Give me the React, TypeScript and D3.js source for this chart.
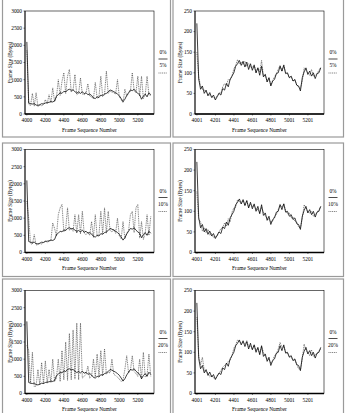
import React from "react";
import * as d3 from "d3";

// ---------- data ----------
const FRAMES = d3.range(4000, 5341, 20); // frame sequence numbers (68 samples)

const LEFT_X_TICKS = [4000, 4200, 4400, 4600, 4800, 5000, 5200];
const RIGHT_X_TICKS = [4001, 4201, 4401, 4601, 4801, 5001, 5201];
const LEFT_Y_TICKS = [0, 500, 1000, 1500, 2000, 2500, 3000];
const RIGHT_Y_TICKS = [0, 50, 100, 150, 200, 250];
const LOSS_LABELS = ["5%", "10%", "20%"];
const BASE_LABEL = "0%";

const LEFT_0 = [
  2100, 320, 300, 290, 300, 260, 250, 270, 300, 290, 320, 330, 340, 360, 350, 380, 520, 560, 620, 600,
  660, 640, 700, 720, 690, 700, 650, 610, 640, 600, 650, 590, 620, 560, 580, 540, 470, 450, 500, 480,
  550, 530, 580, 600, 640, 700, 680, 650, 620, 580, 530, 450, 360, 430, 540, 620, 700, 680, 720, 650,
  600, 560, 430, 520, 580, 500, 620, 560,
];
const LEFT_5 = [
  1850, 280, 250, 600, 230, 620, 220, 260, 240, 280, 420, 300, 560, 330, 760, 360, 480, 1000, 540, 950,
  1200, 600, 1100, 1300, 640, 700, 1150, 560, 600, 1050, 580, 560, 620, 880, 520, 500, 440, 920, 460, 500,
  1100, 520, 560, 1250, 600, 660, 640, 620, 580, 1000, 500, 420, 330, 720, 520, 600, 660, 1200, 680, 620,
  1100, 520, 1100, 450, 560, 1100, 560, 540,
];
const LEFT_10 = [
  1500, 1000, 260, 240, 520, 220, 230, 260, 250, 300, 340, 290, 330, 350, 860, 700, 480, 1100, 1300, 1400,
  600, 680, 1300, 640, 700, 620, 1100, 560, 1100, 540, 1200, 560, 520, 600, 500, 900, 440, 1100, 480, 520,
  1200, 540, 1300, 560, 1200, 640, 600, 680, 560, 1000, 480, 400, 900, 400, 560, 640, 1100, 1200, 580, 1300,
  1400, 420, 900, 380, 560, 1100, 500, 1050,
];
const LEFT_20 = [
  1400, 1250, 300, 1200, 200, 220, 700, 250, 900, 280, 950, 300, 700, 320, 1000, 350, 450, 1000, 350, 1250,
  400, 1500, 380, 1750, 400, 1850, 420, 2050, 400, 2050, 450, 500, 560, 800, 450, 500, 1000, 480, 1150, 500,
  1250, 520, 1300, 560, 620, 600, 1000, 560, 520, 480, 420, 350, 400, 700, 1100, 600, 680, 1100, 640, 580,
  500, 1000, 420, 1200, 480, 520, 1150, 500,
];

const RIGHT_0 = [
  220, 85, 60, 68, 50, 58, 44, 52, 40, 46, 34, 42, 50, 46, 62, 58, 74, 66, 84, 92,
  100, 116, 122, 130, 118, 128, 114, 126, 108, 122, 106, 118, 100, 112, 94, 116, 90, 96, 78, 88,
  68, 80, 84, 98, 100, 116, 104, 118, 98, 100, 88, 92, 80, 84, 70, 68, 56, 88, 102, 112,
  96, 104, 92, 100, 86, 98, 100, 112,
];
const RIGHT_5 = [
  150, 90, 68, 60, 58, 54, 48, 46, 42, 40, 38, 44, 52, 50, 66, 74, 70, 84, 82, 92,
  110, 118, 132, 122, 126, 120, 128, 116, 122, 114, 112, 120, 100, 112, 102, 130, 92, 96, 78, 88,
  70, 82, 90, 98, 108, 118, 104, 120, 100, 98, 88, 90, 80, 82, 70, 66, 62, 80, 112, 106,
  100, 94, 108, 92, 94, 98, 106, 114,
];
const RIGHT_10 = [
  148, 80, 75, 52, 60, 48, 56, 42, 46, 36, 38, 40, 50, 58, 60, 72, 64, 82, 74, 98,
  108, 110, 128, 124, 118, 128, 114, 126, 110, 118, 112, 114, 106, 104, 96, 110, 98, 88, 84, 80,
  74, 76, 88, 92, 104, 116, 110, 118, 102, 94, 96, 84, 86, 76, 74, 62, 60, 82, 116, 108,
  98, 96, 100, 88, 92, 98, 104, 112,
];
const RIGHT_20 = [
  185, 92, 70, 88, 56, 52, 50, 40, 44, 38, 36, 44, 48, 56, 64, 68, 72, 78, 80, 92,
  110, 118, 130, 126, 122, 124, 120, 128, 114, 116, 108, 118, 104, 110, 96, 114, 100, 90, 84, 82,
  74, 80, 92, 96, 108, 124, 112, 114, 100, 98, 90, 88, 80, 82, 70, 60, 56, 84, 120, 104,
  100, 92, 106, 90, 94, 96, 104, 108,
];

// ---------- layout ----------
const W = 345;
const H = 413;
const PLOT_W = 129;
const PLOT_H = 103;
const FONT = "'Liberation Serif', 'DejaVu Serif', serif";
const FS = 5.4;

type PanelProps = {
  left: number;
  top: number;
  yMax: number;
  yTicks: number[];
  xTicks: number[];
  base: number[];
  loss: number[];
  lossLabel: string;
};

function Panel({ left, top, yMax, yTicks, xTicks, base, loss, lossLabel }: PanelProps) {
  const x = d3.scaleLinear().domain([3980, 5375]).range([left, left + PLOT_W]);
  const y = d3.scaleLinear().domain([0, yMax]).range([top + PLOT_H, top]);
  const line = d3
    .line<number>()
    .x((_, i) => x(FRAMES[i]))
    .y((d) => y(d));
  const bottom = top + PLOT_H;
  const right = left + PLOT_W;
  const legX = right + 9;
  return (
    <g>
      <rect x={left} y={top} width={PLOT_W} height={PLOT_H} fill="#fff" stroke="#000" strokeWidth={0.6} />
      <path d={line(loss) || ""} fill="none" stroke="#222" strokeWidth={0.6} strokeDasharray="1,0.8" />
      <path d={line(base) || ""} fill="none" stroke="#000" strokeWidth={0.75} />
      <line x1={left} x2={right} y1={bottom} y2={bottom} stroke="#000" strokeWidth={1.3} />
      <line x1={left} x2={left} y1={top} y2={bottom} stroke="#000" strokeWidth={0.8} />
      {yTicks.map((t) => (
        <g key={"y" + t}>
          <line x1={left - 1.5} x2={left} y1={y(t)} y2={y(t)} stroke="#000" strokeWidth={0.5} />
          <text x={left - 3} y={y(t)} dy="0.35em" textAnchor="end" fontSize={FS} fontFamily={FONT}>
            {t}
          </text>
        </g>
      ))}
      {xTicks.map((t) => (
        <g key={"x" + t}>
          <line x1={x(t)} x2={x(t)} y1={bottom} y2={bottom + 1.5} stroke="#000" strokeWidth={0.5} />
          <text x={x(t)} y={bottom + 8} textAnchor="middle" fontSize={FS} fontFamily={FONT}>
            {t}
          </text>
        </g>
      ))}
      <text x={(left + right) / 2} y={bottom + 17.5} textAnchor="middle" fontSize={FS} fontFamily={FONT}>
        Frame Sequence Number
      </text>
      <text
        transform={`translate(${left - 13.5},${top + PLOT_H / 2}) rotate(-90)`}
        textAnchor="middle"
        fontSize={FS}
        fontFamily={FONT}
      >
        Frame Size (Bytes)
      </text>
      <text x={legX} y={top + 43} textAnchor="middle" fontSize={FS} fontFamily={FONT}>
        {BASE_LABEL}
      </text>
      <line x1={legX - 4.5} x2={legX + 4.5} y1={top + 48} y2={top + 48} stroke="#000" strokeWidth={0.7} />
      <text x={legX} y={top + 56} textAnchor="middle" fontSize={FS} fontFamily={FONT}>
        {lossLabel}
      </text>
      <line
        x1={legX - 4.5}
        x2={legX + 4.5}
        y1={top + 62}
        y2={top + 62}
        stroke="#222"
        strokeWidth={0.6}
        strokeDasharray="1,0.8"
      />
    </g>
  );
}

const ROW_TOPS = [11, 149.5, 290.5];
const LEFT_SERIES = [LEFT_5, LEFT_10, LEFT_20];
const RIGHT_SERIES = [RIGHT_5, RIGHT_10, RIGHT_20];
const BOXES_Y: [number, number][] = [
  [-1, 137],
  [143, 276.5],
  [279, 414],
];

export default function App() {
  return (
    <svg
      width={W}
      height={H}
      viewBox={`0 0 ${W} ${H}`}
      style={{ position: "absolute", left: 0, top: 0, background: "#fff" }}
    >
      <rect x={0} y={0} width={W} height={H} fill="#fff" />
      {BOXES_Y.map(([y0, y1], r) => (
        <g key={"box" + r}>
          <rect x={2.5} y={y0} width={168} height={y1 - y0} fill="none" stroke="#9a9a9a" strokeWidth={1.2} />
          <rect x={173} y={y0} width={170.5} height={y1 - y0} fill="none" stroke="#9a9a9a" strokeWidth={1.2} />
        </g>
      ))}
      {ROW_TOPS.map((top, r) => (
        <g key={"row" + r}>
          <Panel
            left={25}
            top={top}
            yMax={3000}
            yTicks={LEFT_Y_TICKS}
            xTicks={LEFT_X_TICKS}
            base={LEFT_0}
            loss={LEFT_SERIES[r]}
            lossLabel={LOSS_LABELS[r]}
          />
          <Panel
            left={195}
            top={top}
            yMax={250}
            yTicks={RIGHT_Y_TICKS}
            xTicks={RIGHT_X_TICKS}
            base={RIGHT_0}
            loss={RIGHT_SERIES[r]}
            lossLabel={LOSS_LABELS[r]}
          />
        </g>
      ))}
    </svg>
  );
}
